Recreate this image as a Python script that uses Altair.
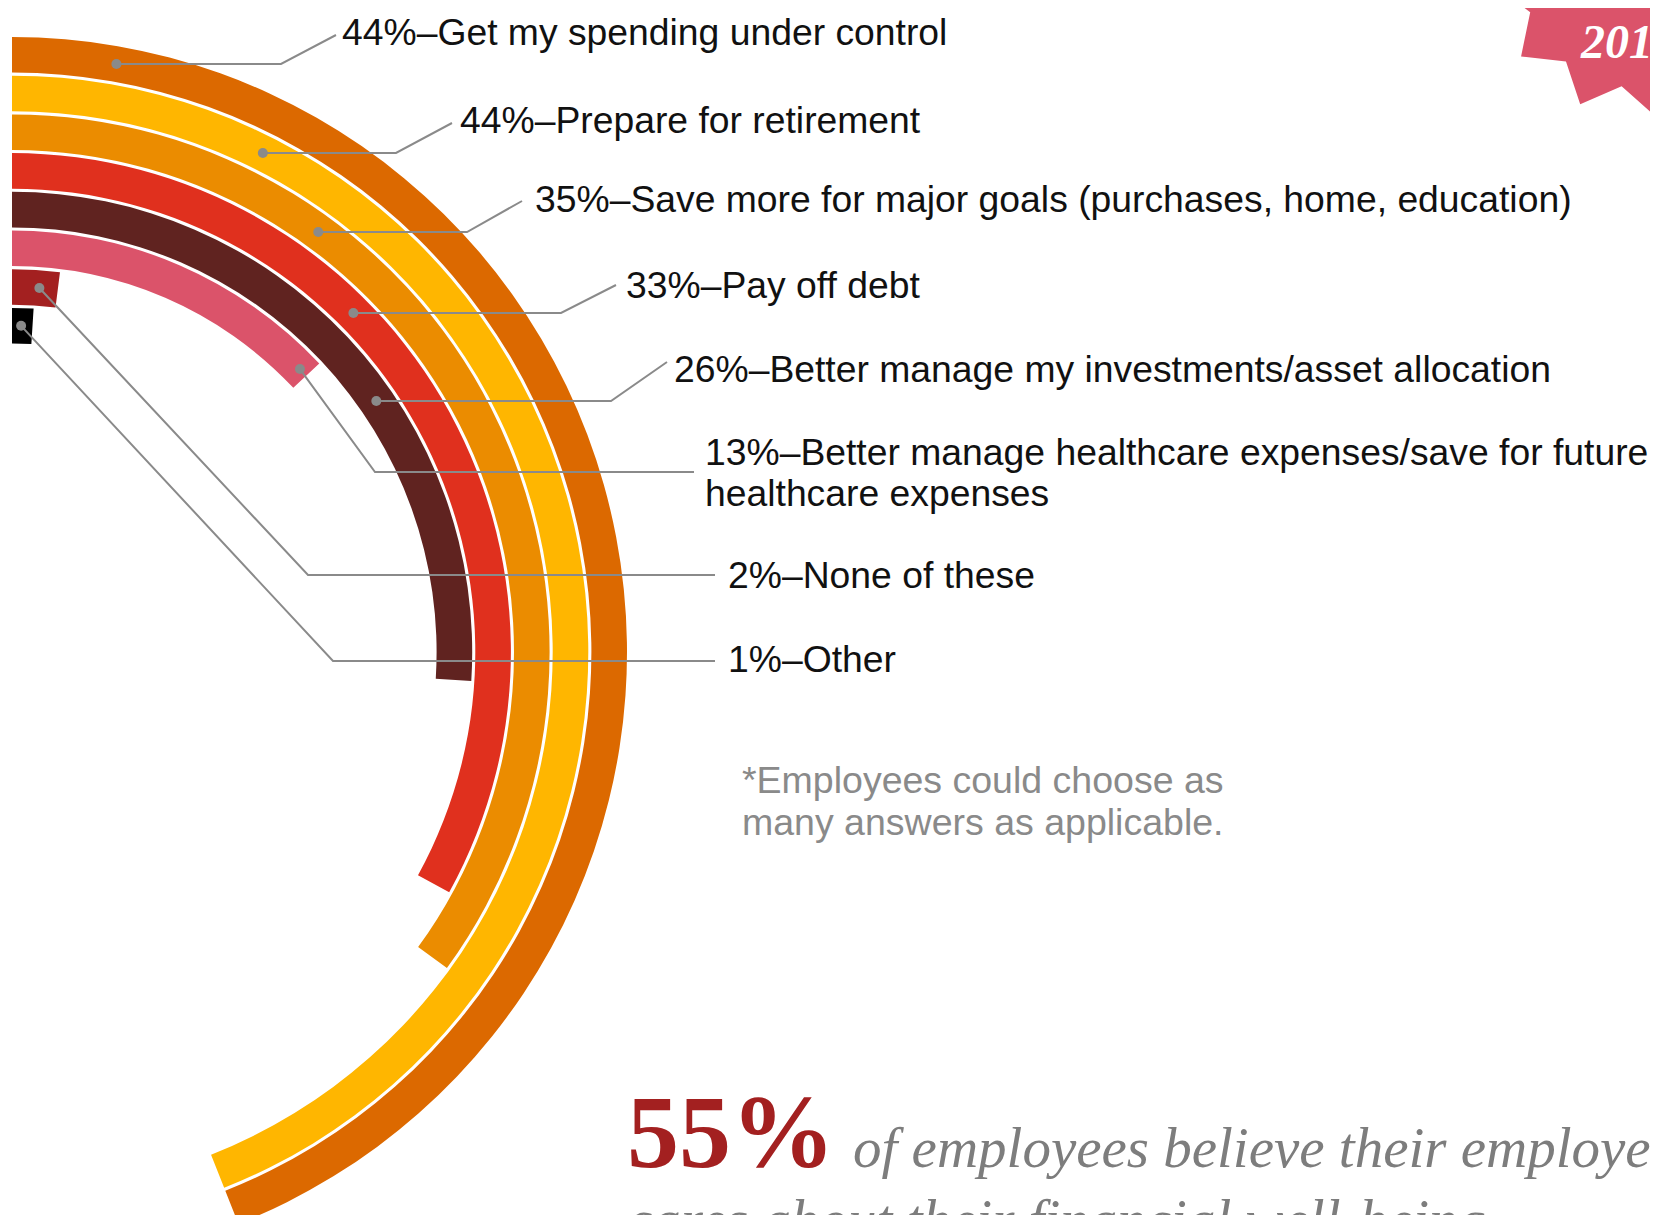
import math
import altair as alt
import pandas as pd

# ---------------- data ----------------
categories = [
    "Get my spending under control",
    "Prepare for retirement",
    "Save more for major goals (purchases, home, education)",
    "Pay off debt",
    "Better manage my investments/asset allocation",
    "Better manage healthcare expenses/save for future healthcare expenses",
    "None of these",
    "Other",
]
values = [44, 44, 35, 33, 26, 13, 2, 1]
label_lines = [
    ["44%–Get my spending under control"],
    ["44%–Prepare for retirement"],
    ["35%–Save more for major goals (purchases, home, education)"],
    ["33%–Pay off debt"],
    ["26%–Better manage my investments/asset allocation"],
    ["13%–Better manage healthcare expenses/save for future", "healthcare expenses"],
    ["2%–None of these"],
    ["1%–Other"],
]
colors = ["#DC6900", "#FFB600", "#EB8C00", "#E0301E", "#602320", "#DB536A", "#A32020", "#000000"]
footnote = ["*Employees could choose as", "many answers as applicable."]
big_number = "55%"
big_text = ["of employees believe their employer", "cares about their financial well-being"]
badge_text = "2016"

# ---------------- layout ----------------
W, H = 1642, 1207
CX, CY = 4, 644            # centre of the rings
R_IN, STEP, BAND = 305.4, 38.7, 0.92
N = len(values)
GRAY = "#8a8a8a"

# leader line knees / ends and label positions (layout)
knees = [(273, 56), (388, 145), (459, 224), (553, 305), (603, 393), (367, 464), (300, 567), (325, 653)]
ends = [(328, 27), (444, 115), (514, 193), (608, 277), (659, 354), (686, 464), (707, 567), (707, 653)]
dot_angles = [None, None, None, None, None, 45.5, 4.3, 1.6]
label_x = [334, 452, 527, 618, 666, 697, 720, 720]
label_base = [[37], [125], [204], [290], [374], [457, 498], [580], [664]]


def ring_px(v):
    return R_IN + STEP * v


# ---------------- tables ----------------
arc_df = pd.DataFrame({
    "category": categories,
    "value": values,
    "start": [0] * N,
    "r_out": [N - i for i in range(N)],
    "r_in": [N - i - BAND for i in range(N)],
})

line_rows, dot_rows, text_rows = [], [], []
for i in range(N):
    r = ring_px(N - i - BAND / 2)
    if dot_angles[i] is None:
        ky = knees[i][1]
        a = math.acos((CY - ky) / r)
    else:
        a = math.radians(dot_angles[i])
    dx, dy = CX + r * math.sin(a), CY - r * math.cos(a)
    dot_rows.append({"id": i, "x": dx, "y": dy})
    for s, (px, py) in enumerate([(dx, dy), knees[i], ends[i]]):
        line_rows.append({"id": i, "seq": s, "x": px, "y": py})
    for line, b in zip(label_lines[i], label_base[i]):
        text_rows.append({"text": line, "x": label_x[i], "y": b})

lines_df = pd.DataFrame(line_rows)
dots_df = pd.DataFrame(dot_rows)
text_df = pd.DataFrame(text_rows)
foot_df = pd.DataFrame({"text": footnote, "x": [734, 734], "y": [785, 827]})
big_df = pd.DataFrame({"text": [big_number], "x": [619], "y": [1159]})
ital_df = pd.DataFrame({"text": big_text, "x": [845, 619], "y": [1159, 1231]})
badge_df = pd.DataFrame({"text": [badge_text], "x": [1573], "y": [50]})

xs = alt.Scale(domain=[0, W], range=[0, W], nice=False, zero=False)
ys = alt.Scale(domain=[0, H], range=[0, H], nice=False, zero=False)
X = alt.X("x:Q", scale=xs, axis=None)
Y = alt.Y("y:Q", scale=ys, axis=None)

# star badge path (unit box)
pts = []
for k in range(12):
    t = math.radians(84 + 30 * k)
    pts.append((math.cos(t), math.sin(t)))
    t2 = math.radians(84 + 30 * k + 15)
    pts.append((0.8 * math.cos(t2), 0.8 * math.sin(t2)))
star_path = "M" + " L".join(f"{px:.4f},{py:.4f}" for px, py in pts) + " Z"

arcs = alt.Chart(arc_df).mark_arc(stroke=None).encode(
    theta=alt.Theta("start:Q", stack=None,
                    scale=alt.Scale(domain=[0, 100], range=[0, 2 * math.pi])),
    theta2=alt.Theta2("value:Q"),
    radius=alt.Radius("r_out:Q", scale=alt.Scale(type="linear", domain=[0, N],
                                                 range=[R_IN, ring_px(N)], zero=False)),
    radius2=alt.Radius2("r_in:Q"),
    color=alt.Color("category:N", scale=alt.Scale(domain=categories, range=colors), legend=None),
    x=alt.value(CX),
    y=alt.value(CY),
)

leaders = alt.Chart(lines_df).mark_line(color=GRAY, strokeWidth=2).encode(
    x=X, y=Y, detail="id:N", order="seq:Q"
)
dots = alt.Chart(dots_df).mark_point(filled=True, color=GRAY, size=100, opacity=1).encode(x=X, y=Y)

labels = alt.Chart(text_df).mark_text(
    align="left", baseline="alphabetic", font="Liberation Sans", fontSize=37.3, color="#111111"
).encode(x=X, y=Y, text="text:N")

foot = alt.Chart(foot_df).mark_text(
    align="left", baseline="alphabetic", font="Liberation Sans", fontSize=37.5, color="#8a8a8a"
).encode(x=X, y=Y, text="text:N")

big = alt.Chart(big_df).mark_text(
    align="left", baseline="alphabetic", font="Liberation Serif", fontSize=104,
    fontWeight="bold", color="#A32020"
).encode(x=X, y=Y, text="text:N")

ital = alt.Chart(ital_df).mark_text(
    align="left", baseline="alphabetic", font="Liberation Serif", fontSize=57,
    fontStyle="italic", color="#7d7d7d"
).encode(x=X, y=Y, text="text:N")

star = alt.Chart(pd.DataFrame({"k": [0]})).mark_point(
    shape=star_path, filled=True, color="#DB536A", opacity=1, size=86436
).encode(x=alt.value(1632), y=alt.value(-38))

badge = alt.Chart(badge_df).mark_text(
    align="left", baseline="alphabetic", font="Liberation Serif", fontSize=48,
    fontWeight="bold", fontStyle="italic", color="#ffffff"
).encode(x=X, y=Y, text="text:N")

chart = alt.layer(arcs, leaders, dots, labels, foot, big, ital, star, badge).properties(
    width=W, height=H, autosize=alt.AutoSizeParams(type="none"), padding=0
).configure_view(stroke=None)

chart.save("out.html", embed_options={"renderer": "svg", "actions": False})
